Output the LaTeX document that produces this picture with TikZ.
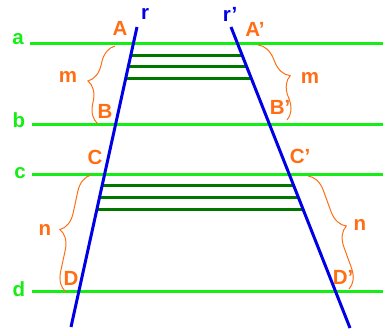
\documentclass[tikz,border=0pt]{standalone}
\usepackage{fontspec}
\setmainfont{Liberation Sans}
\usetikzlibrary{decorations.pathreplacing}
\definecolor{lgreen}{RGB}{20,238,20}
\definecolor{dgreen}{RGB}{0,120,0}
\definecolor{lblue}{RGB}{0,0,230}
\definecolor{lorange}{RGB}{255,110,20}
\tikzset{
  parline/.style={lgreen, line width=3pt},
  transline/.style={lblue, line width=3pt},
  segline/.style={dgreen, line width=3pt},
  bracepath/.style={lorange, line width=1pt, decorate, decoration={brace, amplitude=19pt}},
  glabel/.style={text=lgreen, font=\fontsize{20.5}{24}\selectfont\bfseries, inner sep=0pt},
  olabel/.style={text=lorange, font=\fontsize{20.5}{24}\selectfont\bfseries, inner sep=0pt},
  blabel/.style={text=lblue, font=\fontsize{20.5}{24}\selectfont\bfseries, inner sep=0pt},
}
\begin{document}
\begin{tikzpicture}[x=1pt,y=-1pt]
\useasboundingbox (0,0) rectangle (383,329);
% parallel lines
\coordinate (a1) at (30,44);  \coordinate (a2) at (383,44);
\coordinate (b1) at (32,124); \coordinate (b2) at (383,124);
\coordinate (c1) at (32,174); \coordinate (c2) at (383,174);
\coordinate (d1) at (32,291); \coordinate (d2) at (383,291);
\draw[parline] (a1) -- (a2);
\draw[parline] (b1) -- (b2);
\draw[parline] (c1) -- (c2);
\draw[parline] (d1) -- (d2);
% transversals
\coordinate (r1) at (137,27); \coordinate (r2) at (71,327);
\coordinate (s1) at (231,27); \coordinate (s2) at (350,328);
% segments between the transversals
\foreach \yy [count=\i] in {56,67,79,185,197,209} {
  \pgfmathsetmacro{\xl}{137-0.22*(\yy-27)}
  \pgfmathsetmacro{\xr}{231+0.3953*(\yy-27)}
  \coordinate (L\i) at (\xl,\yy);
  \coordinate (R\i) at (\xr,\yy);
  \draw[segline] (L\i) -- (R\i);
}
\draw[transline] (r1) -- (r2);
\draw[transline] (s1) -- (s2);
% braces
\coordinate (m1b) at (98,124);  \coordinate (m1t) at (115,46);
\coordinate (m2t) at (258,45);  \coordinate (m2b) at (287,120);
\coordinate (n1b) at (66,292);  \coordinate (n1t) at (91,175);
\coordinate (n2t) at (308,176); \coordinate (n2b) at (349,289);
\draw[bracepath] (m1b) -- (m1t);
\draw[bracepath] (m2t) -- (m2b);
\draw[bracepath] (n1b) -- (n1t);
\draw[bracepath] (n2t) -- (n2b);
% labels
\node[glabel] (la) at (18,39) {a};
\node[glabel] (lb) at (19,120) {b};
\node[glabel] (lc) at (20,173) {c};
\node[glabel] (ld) at (19,289) {d};
\node[blabel] (lr) at (145,14) {r};
\node[blabel] (lrp) at (230,14) {r’};
\node[olabel] (lA) at (120,28) {A};
\node[olabel] (lB) at (105,111) {B};
\node[olabel] (lC) at (95,157) {C};
\node[olabel] (lD) at (71,278) {D};
\node[olabel] (lAp) at (255,29) {A’};
\node[olabel] (lBp) at (280,107) {B’};
\node[olabel] (lCp) at (300,156) {C’};
\node[olabel] (lDp) at (343,277) {D’};
\node[olabel] (lm1) at (68,77) {m};
\node[olabel] (lm2) at (310,78) {m};
\node[olabel] (ln1) at (45,230) {n};
\node[olabel] (ln2) at (360,225) {n};
\end{tikzpicture}
\end{document}
